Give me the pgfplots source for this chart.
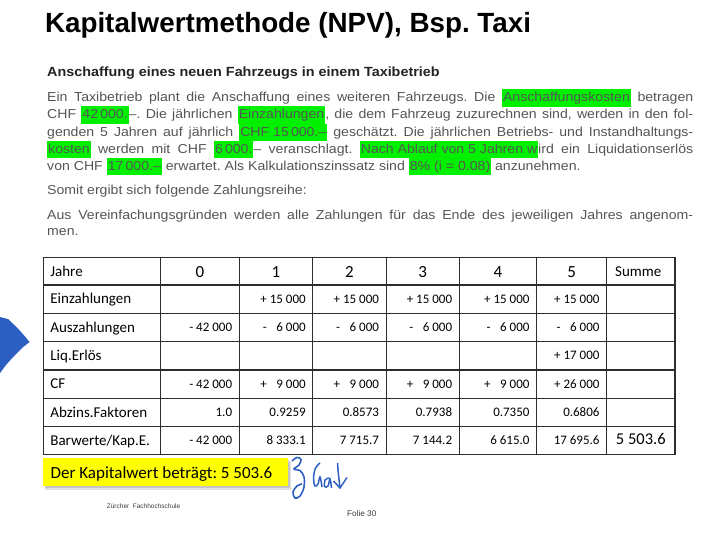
\documentclass[border=0pt]{standalone}
\usepackage{pgfplots}
\pgfplotsset{compat=1.18}
\usepackage{fontspec}
\setmainfont{Liberation Sans}
\newfontfamily\calibri{Carlito}
\newfontfamily\bodyfont[FakeStretch=1.085]{Liberation Sans}
\newfontfamily\headfont[FakeStretch=1.08]{Liberation Sans}
\definecolor{hlgreen}{RGB}{0,240,0}
\definecolor{bodygray}{RGB}{85,85,85}
\definecolor{pen}{RGB}{45,95,195}
\definecolor{gridc}{RGB}{45,45,45}
\definecolor{hiyellow}{RGB}{255,255,0}
\frenchspacing
\newcommand{\hl}[1]{{\setlength{\fboxsep}{1pt}\colorbox{hlgreen}{\rule[-4pt]{0pt}{15.5pt}#1}}}
\newcommand{\pfont}{\bodyfont\fontsize{13}{15}\selectfont}
\newcommand{\lab}[2]{\node[anchor=base west,inner sep=0pt,font=\calibri\fontsize{15}{18}\selectfont] at (axis cs:50.2,#1) {#2};}
\newcommand{\cell}[3]{\node[anchor=base east,inner sep=0pt,font=\calibri\fontsize{13}{15}\selectfont] at (axis cs:#1,#2) {#3};}
\begin{document}
\begin{tikzpicture}
\begin{axis}[scale only axis, width=709pt, height=545pt,
  xmin=0, xmax=709, ymin=0, ymax=545, y dir=reverse,
  hide axis, clip=false, unbounded coords=jump]
% background
\addplot[fill=white, draw=none] coordinates {(0,0) (709,0) (709,545) (0,545)} -- cycle;
% title
\node[anchor=base west, inner sep=0pt, font=\bfseries\fontsize{27.8}{32}\selectfont] at (axis cs:44.8,32.7) {Kapitalwertmethode (NPV), Bsp. Taxi};
% heading
\node[anchor=base west, inner sep=0pt, text={rgb,255:red,35;green,35;blue,35}, font=\headfont\bfseries\fontsize{13.3}{16}\selectfont] at (axis cs:47,76.7) {Anschaffung eines neuen Fahrzeugs in einem Taxibetrieb};
% paragraph
\node[anchor=base west, inner sep=0pt, text=bodygray, font=\pfont] at (axis cs:47,101.7) {\makebox[646pt][s]{Ein Taxibetrieb plant die Anschaffung eines weiteren Fahrzeugs. Die \hl{Anschaffungskosten} betragen}};
\node[anchor=base west, inner sep=0pt, text=bodygray, font=\pfont] at (axis cs:47,119.0) {\makebox[646pt][s]{CHF \hl{42\,000.}–. Die jährlichen \hl{Einzahlungen}, die dem Fahrzeug zuzurechnen sind, werden in den fol-}};
\node[anchor=base west, inner sep=0pt, text=bodygray, font=\pfont] at (axis cs:47,136.3) {\makebox[646pt][s]{genden 5 Jahren auf jährlich \hl{CHF 15\,000.–} geschätzt. Die jährlichen Betriebs- und Instandhaltungs-}};
\node[anchor=base west, inner sep=0pt, text=bodygray, font=\pfont] at (axis cs:47,153.4) {\makebox[646pt][s]{\hl{kosten} werden mit CHF \hl{6\,000.}– veranschlagt. \hl{Nach Ablauf von 5 Jahren w}ird ein Liquidationserlös}};
\node[anchor=base west, inner sep=0pt, text=bodygray, font=\pfont] at (axis cs:47,170.3) {von CHF \hl{17\,000.–} erwartet. Als Kalkulationszinssatz sind \hl{8\% (i = 0.08)} anzunehmen.};
\node[anchor=base west, inner sep=0pt, text=bodygray, font=\pfont] at (axis cs:47,195) {Somit ergibt sich folgende Zahlungsreihe:};
\node[anchor=base west, inner sep=0pt, text=bodygray, font=\pfont] at (axis cs:47,220) {\makebox[646pt][s]{Aus Vereinfachungsgründen werden alle Zahlungen für das Ende des jeweiligen Jahres angenom-}};
\node[anchor=base west, inner sep=0pt, text=bodygray, font=\pfont] at (axis cs:47,236) {men.};
% table grid
\addplot[gridc, line width=1.2pt] coordinates {
 (43.5,257.3) (43.5,454.5) (nan,nan)
 (160.7,257.3) (160.7,454.5) (nan,nan)
 (239.3,257.3) (239.3,454.5) (nan,nan)
 (312.7,257.3) (312.7,454.5) (nan,nan)
 (386.2,257.3) (386.2,454.5) (nan,nan)
 (459.3,257.3) (459.3,454.5) (nan,nan)
 (536.7,257.3) (536.7,454.5) (nan,nan)
 (606.7,257.3) (606.7,454.5) (nan,nan)
 (675,257.3) (675,454.5)};
\addplot[gridc, line width=1.2pt] coordinates {
 (42.9,257.3) (675.6,257.3) (nan,nan)
 (42.9,285.0) (675.6,285.0) (nan,nan)
 (42.9,313.3) (675.6,313.3) (nan,nan)
 (42.9,341.7) (675.6,341.7) (nan,nan)
 (42.9,370.0) (675.6,370.0) (nan,nan)
 (42.9,398.3) (675.6,398.3) (nan,nan)
 (42.9,426.7) (675.6,426.7) (nan,nan)
 (42.9,454.5) (675.6,454.5)};
% header row
\lab{276.2}{Jahre}
\node[anchor=base, inner sep=0pt, font=\calibri\fontsize{17}{20}\selectfont] at (axis cs:200,277.2) {0};
\node[anchor=base, inner sep=0pt, font=\calibri\fontsize{17}{20}\selectfont] at (axis cs:276,277.2) {1};
\node[anchor=base, inner sep=0pt, font=\calibri\fontsize{17}{20}\selectfont] at (axis cs:349.4,277.2) {2};
\node[anchor=base, inner sep=0pt, font=\calibri\fontsize{17}{20}\selectfont] at (axis cs:422.8,277.2) {3};
\node[anchor=base, inner sep=0pt, font=\calibri\fontsize{17}{20}\selectfont] at (axis cs:498,277.2) {4};
\node[anchor=base, inner sep=0pt, font=\calibri\fontsize{17}{20}\selectfont] at (axis cs:571.7,277.2) {5};
\node[anchor=base west, inner sep=0pt, font=\calibri\fontsize{15}{18}\selectfont] at (axis cs:615,276.2) {Summe};
% labels
\lab{303.7}{Einzahlungen}
\lab{332.0}{Auszahlungen}
\lab{360.4}{Liq.Erlös}
\lab{388.7}{CF}
\lab{417.0}{Abzins.Faktoren}
\lab{445.1}{Barwerte/Kap.E.}
% Einzahlungen
\cell{305.9}{303.0}{+ 15 000}
\cell{379.2}{303.0}{+ 15 000}
\cell{452.3}{303.0}{+ 15 000}
\cell{529.7}{303.0}{+ 15 000}
\cell{599.7}{303.0}{+ 15 000}
% Auszahlungen
\cell{232.3}{331.3}{- 42 000}
\cell{305.9}{331.3}{- \phantom{1}6 000}
\cell{379.2}{331.3}{- \phantom{1}6 000}
\cell{452.3}{331.3}{- \phantom{1}6 000}
\cell{529.7}{331.3}{- \phantom{1}6 000}
\cell{599.7}{331.3}{- \phantom{1}6 000}
% Liq. Erloes
\cell{599.7}{359.7}{+ 17 000}
% CF
\cell{232.3}{388.0}{- 42 000}
\cell{305.9}{388.0}{+ \phantom{1}9 000}
\cell{379.2}{388.0}{+ \phantom{1}9 000}
\cell{452.3}{388.0}{+ \phantom{1}9 000}
\cell{529.7}{388.0}{+ \phantom{1}9 000}
\cell{599.7}{388.0}{+ 26 000}
% Abzinsungsfaktoren
\cell{232.3}{416.3}{1.0}
\cell{305.9}{416.3}{0.9259}
\cell{379.2}{416.3}{0.8573}
\cell{452.3}{416.3}{0.7938}
\cell{529.7}{416.3}{0.7350}
\cell{599.7}{416.3}{0.6806}
% Barwerte
\cell{232.3}{444.4}{- 42 000}
\cell{305.9}{444.4}{8 333.1}
\cell{379.2}{444.4}{7 715.7}
\cell{452.3}{444.4}{7 144.2}
\cell{529.7}{444.4}{6 615.0}
\cell{599.7}{444.4}{17 695.6}
\node[anchor=base, inner sep=0pt, font=\calibri\fontsize{16.5}{20}\selectfont] at (axis cs:640.8,444.5) {5 503.6};
% yellow result box with shadow
\addplot[fill=black, fill opacity=0.12, draw=none] coordinates {(45,461.5) (290.5,461.5) (290.5,489.5) (45,489.5)} -- cycle;
\addplot[fill=black, fill opacity=0.12, draw=none] coordinates {(44.5,460) (289.5,460) (289.5,488) (44.5,488)} -- cycle;
\addplot[fill=hiyellow, draw=none] coordinates {(43.3,458.3) (287.7,458.3) (287.7,486) (43.3,486)} -- cycle;
\node[anchor=base west, inner sep=0pt, font=\calibri\fontsize{17}{20}\selectfont] at (axis cs:50.5,478) {Der Kapitalwert beträgt: 5 503.6};
% handwriting
\addplot[pen, line width=1.6pt, smooth, tension=0.6] coordinates {(292,461) (297,457.5) (301,459.5) (299,465) (294,469) (300,470.5) (304,477) (304,487) (300,496) (295,498) (293,492) (297,486) (302,484)};
\addplot[pen, line width=1.5pt, smooth, tension=0.6] coordinates {(320,463) (315.5,468) (313.5,478) (315,486) (318,484) (320,477) (322,487)};
\addplot[pen, line width=1.5pt, smooth, tension=0.6] coordinates {(329,478) (325,480) (324.5,486.5) (328,486) (330,479) (331.5,488)};
\addplot[pen, line width=1.5pt, smooth, tension=0.5] coordinates {(337.5,463) (338.5,475) (340,487.5)};
\addplot[pen, line width=1.5pt] coordinates {(333.5,481) (340,488) (347,477.5)};
% pen blob at left edge
\addplot[fill=pen, draw=none] coordinates {(0,317) (8,319) (18,328.5) (25,336.5) (29.5,342) (22,348) (14,356) (6,365) (0,373)} -- cycle;
% footer
\node[anchor=base west, inner sep=0pt, text={rgb,255:red,60;green,60;blue,60}, font=\fontsize{6.5}{8}\selectfont] at (axis cs:106.7,508.7) {Zürcher~ Fachhochschule};
\node[anchor=base west, inner sep=0pt, text={rgb,255:red,60;green,60;blue,60}, font=\fontsize{8.2}{10}\selectfont] at (axis cs:347,516) {Folie 30};
\end{axis}
\end{tikzpicture}
\end{document}
